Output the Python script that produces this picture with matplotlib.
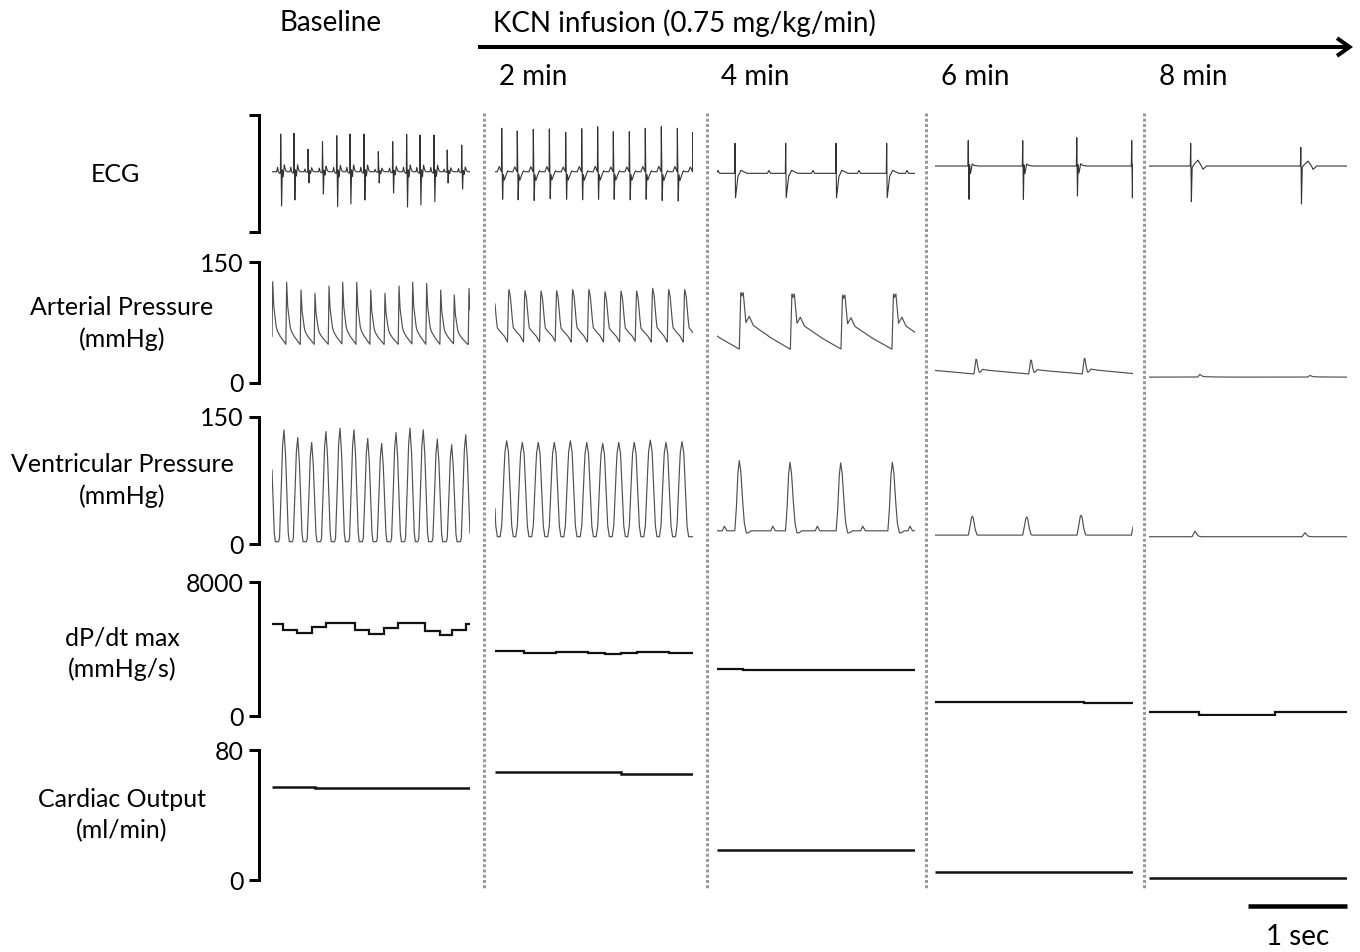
import numpy as np
import matplotlib
matplotlib.use("Agg")
import matplotlib.pyplot as plt
from matplotlib.lines import Line2D
from matplotlib.patches import FancyArrowPatch

plt.rcParams['font.family'] = ['Lato', 'DejaVu Sans']

# ======================= DATA =======================
columns = ["Baseline", "2 min", "4 min", "6 min", "8 min"]
infusion_label = "KCN infusion (0.75 mg/kg/min)"
row_labels = ["ECG", "Arterial Pressure\n(mmHg)", "Ventricular Pressure\n(mmHg)",
              "dP/dt max\n(mmHg/s)", "Cardiac Output\n(ml/min)"]
row_ymin = [-1.0, 0, 0, 0, 0]
row_ymax = [1.0, 150, 150, 8000, 80]
row_ticklabels = [None, ["0", "150"], ["0", "150"], ["0", "8000"], ["0", "80"]]
window_s = 2.0
scale_bar_s = 1.0

# ---- ECG (arbitrary units) ----
ecg_level = [0.03, 0.03, 0.003, 0.128, 0.128]
ecg_r_times = [
    [0.088, 0.222, 0.364, 0.510, 0.654, 0.788, 0.929, 1.074, 1.219, 1.360, 1.495, 1.636, 1.770, 1.916],
    [0.068, 0.225, 0.387, 0.549, 0.714, 0.876, 1.037, 1.195, 1.357, 1.518, 1.680, 1.842, 1.998],
    [0.182, 0.694, 1.202, 1.714],
    [0.336, 0.886, 1.432, 1.987],
    [0.421, 1.533],
]
ecg_r_peak = [
    [0.675, 0.687, 0.414, 0.544, 0.646, 0.675, 0.675, 0.373, 0.544, 0.670, 0.658, 0.658, 0.402, 0.487],
    [0.773, 0.726, 0.755, 0.761, 0.704, 0.766, 0.800, 0.715, 0.715, 0.773, 0.800, 0.773, 0.704],
    [0.516, 0.516, 0.516, 0.516],
    [0.561, 0.561, 0.612, 0.561],
    [0.516, 0.448],
]
ecg_s_trough = [
    [-0.556, -0.453, -0.162, -0.350, -0.568, -0.521, -0.453, -0.162, -0.333, -0.573, -0.538, -0.482, -0.162, -0.265],
    [-0.44, -0.45, -0.46, -0.43, -0.44, -0.45, -0.44, -0.44, -0.45, -0.44, -0.46, -0.47, -0.44],
    [-0.414, -0.414, -0.414, -0.414],
    [-0.441, -0.441, -0.385, -0.414],
    [-0.482, -0.521],
]
# beat shape knots (ms from R, fraction of R height (+) or S depth (-))
ecg_tpl_ms = [
    [-40, -32, -24, -8, -3, 0, 9, 16, 25, 36, 48, 62],
    [-45, -25, -12, -3, 0, 9, 16, 26, 40, 60, 80],
    [-4, 0, 5, 17, 30, 60, 120],
    [-4, 0, 7, 13, 22, 40, 60, 100],
    [-4, 0, 7, 14, 40, 74, 100, 124, 160],
]
ecg_tpl_frac = [
    [0, 0.12, 0, -0.05, 0, 1, -1, 0.05, -0.15, 0.18, 0.04, 0],
    [0, 0.12, 0.05, 0, 1, -1, -0.1, -0.3, -0.15, 0.02, 0],
    [0, 1, -1, -0.6, -0.12, 0.1, 0],
    [0, 1, -1, 0.05, -0.23, 0.08, 0.02, 0],
    [0, 1, -1, -0.05, 0.1, 0.26, 0.05, -0.09, 0],
]
ecg_p_times_4min = [0.010, 0.525, 0.970, 1.434, 1.919]
ecg_p_height_4min = 0.05

# ---- Arterial pressure (mmHg) ----
ap_trough = [48, 51, 42, 11.2, 7.3]
ap_peak_times = [
    [0.007, 0.148, 0.293, 0.434, 0.576, 0.714, 0.856, 0.997, 1.141, 1.283, 1.421, 1.562, 1.704, 1.841, 1.990],
    [-0.020, 0.141, 0.303, 0.465, 0.623, 0.785, 0.949, 1.111, 1.273, 1.431, 1.593, 1.755, 1.917],
    [-0.265, 0.249, 0.765, 1.276, 1.791],
    [-0.136, 0.414, 0.967, 1.508],
    [0.515, 1.626],
]
ap_peaks = [
    [125.6, 124.8, 115.3, 111.2, 120.2, 124.8, 124.8, 115.3, 111.2, 120.2, 124.8, 123.5, 115.3, 109.1, 117.2],
    [115, 116, 114.4, 114, 114.4, 116, 116, 113.2, 114, 114, 117.4, 116, 116],
    [111, 112, 110.3, 109, 110.3],
    [29.5, 29.4, 28.5, 30.6],
    [10.7, 9.5],
]
ap_tpl_ms = [
    [-8, 0, 10, 33, 45, 71, 124, 133],
    [-15, -5, 0, 8, 15, 30, 43, 71, 111, 131, 146],
    [-24, -10, -6, 3, 16, 43, 77, 117, 286, 488],
    [-20, -10, 0, 8, 16, 32, 42, 66, 76, 136, 303, 444, 530],
    [-25, 0, 20, 45, 150, 300],
]
ap_tpl_frac = [
    [0, 1, 0.62, 0.30, 0.22, 0.14, 0.02, 0],
    [0, 0.85, 1, 0.93, 0.85, 0.50, 0.27, 0.20, 0.12, 0.05, 0],
    [0, 0.96, 1.0, 0.94, 1.0, 0.47, 0.58, 0.42, 0.21, 0],
    [0, 0.55, 1, 0.95, 0.55, 0.12, 0.12, 0.32, 0.30, 0.24, 0.14, 0.06, 0],
    [0, 1, 0.4, 0.15, 0.05, 0],
]

# ---- Ventricular pressure (mmHg) ----
lvp_trough = [2.7, 8.6, 15.6, 10.5, 8.6]
lvp_peak_times = [
    [-0.020, 0.121, 0.260, 0.401, 0.545, 0.687, 0.828, 0.967, 1.108, 1.253, 1.394, 1.528, 1.670, 1.815, 1.957],
    [-0.043, 0.118, 0.276, 0.437, 0.599, 0.761, 0.927, 1.088, 1.250, 1.407, 1.569, 1.727, 1.889],
    [0.225, 0.737, 1.249, 1.771],
    [0.377, 0.926, 1.475, 2.024],
    [0.465, 1.576],
]
lvp_peaks = [
    [130, 134.8, 125.8, 119.9, 132.8, 136.8, 134.8, 124.6, 118.8, 131.6, 136.8, 134.8, 123.9, 117.2, 129],
    [120, 121.9, 120, 120, 120, 121.9, 120, 118.8, 120, 120, 122.7, 120, 121],
    [98.5, 96.5, 95.8, 96.5],
    [32.8, 32, 34, 33],
    [15.2, 13.3],
]
lvp_tpl_ms = [
    [-55, -45, -30, -15, 0, 15, 30, 43, 53],
    [-66, -50, -35, -18, 0, 18, 35, 50, 66],
    [-45, -30, -15, 0, 15, 30, 50, 70, 90, 120],
    [-40, -25, -10, 0, 10, 25, 45, 55],
    [-30, 0, 30, 60],
]
lvp_tpl_frac = [
    [0, 0.03, 0.4, 0.85, 1, 0.8, 0.4, 0.08, 0],
    [0, 0.12, 0.5, 0.88, 1, 0.88, 0.5, 0.12, 0],
    [0, 0.3, 0.8, 1, 0.85, 0.5, 0.12, -0.03, -0.03, 0],
    [0, 0.4, 0.9, 1, 0.9, 0.4, 0.02, 0],
    [0, 1, 0.15, 0],
]
lvp_atrial_times_4min = [0.074, 0.563, 1.013, 1.472, 1.949]
lvp_atrial_peak_4min = 21.0

# ---- dP/dt max (mmHg/s), step-held values ----
dpdt_edges = [
    [0, 0.111, 0.257, 0.402, 0.546, 0.837, 0.982, 1.127, 1.272, 1.547, 1.693, 1.823, 1.961, 2.0],
    [0, 0.289, 0.615, 0.941, 1.108, 1.268, 1.434, 1.754, 2.0],
    [0, 0.258, 1.273, 2.0],
    [0, 0.957, 1.500, 2.0],
    [0, 0.510, 1.272, 2.0],
]
dpdt_values = [
    [5490, 5134, 4935, 5294, 5533, 5134, 4895, 5234, 5533, 5095, 4835, 5134, 5490],
    [3862, 3761, 3821, 3761, 3681, 3761, 3841, 3741],
    [2806, 2766, 2726],
    [836, 816, 796],
    [239, 40, 219],
]

# ---- Cardiac output (ml/min) ----
co_edges = [[0, 0.438, 2.0], [0, 1.268, 2.0], [0, 2.0], [0, 2.0], [0, 2.0]]
co_values = [[57.0, 56.6], [66.2, 65.2], [18.3], [4.9], [1.0]]

# ======================= FIGURE =======================
W, H = 1360, 952
fig = plt.figure(figsize=(W / 100, H / 100), dpi=100)
PT = 72 / 100  # points per pixel

col_left_px = [272, 495, 717, 935, 1149]
col_width_px = 198
row_top_px = [115, 262, 417, 582, 750]
row_bot_px = [232, 383, 544, 716, 880]
sep_x_px = [484, 707, 926, 1144]

TRACE = '#505050'
FONT_HDR = 20
FONT_LBL = 18

t = np.linspace(0, window_s, 2001)


def pulse_train(times, peaks, base, knots_ms, knots_frac):
    y = np.full_like(t, float(base))
    kt = np.asarray(knots_ms, float) / 1000.0
    kf = np.asarray(knots_frac, float)
    for tb, pk in zip(times, peaks):
        y += (pk - base) * np.interp(t - tb, kt, kf, left=0.0, right=0.0)
    return y


def ecg_trace(c):
    base = ecg_level[c]
    y = np.full_like(t, base)
    kt = np.asarray(ecg_tpl_ms[c], float) / 1000.0
    kf = np.asarray(ecg_tpl_frac[c], float)
    for tb, r, s in zip(ecg_r_times[c], ecg_r_peak[c], ecg_s_trough[c]):
        f = np.interp(t - tb, kt, kf, left=0.0, right=0.0)
        y += np.where(f > 0, f * (r - base), f * (base - s))
    if c == 2:
        y = y + pulse_train(ecg_p_times_4min, [ecg_p_height_4min] * len(ecg_p_times_4min),
                            0.0, [-15, 0, 15], [0, 1, 0])
    return y


axes = {}
for r in range(5):
    for c in range(5):
        l = col_left_px[c] / W
        b = 1 - row_bot_px[r] / H
        w = col_width_px / W
        h = (row_bot_px[r] - row_top_px[r]) / H
        ax = fig.add_axes([l, b, w, h])
        ax.set_xlim(0, window_s)
        ax.set_ylim(row_ymin[r], row_ymax[r])
        ax.patch.set_visible(False)
        for sp in ax.spines.values():
            sp.set_visible(False)
        ax.set_xticks([])
        ax.set_yticks([])
        if c == 0:
            sp = ax.spines['left']
            sp.set_visible(True)
            sp.set_position(('outward', 13 * PT))
            sp.set_linewidth(3 * PT)
            sp.set_capstyle('projecting')
            ax.set_yticks([row_ymin[r], row_ymax[r]])
            if row_ticklabels[r] is None:
                ax.set_yticklabels([])
            else:
                ax.set_yticklabels(row_ticklabels[r])
            ax.tick_params(axis='y', direction='out', length=10 * PT, width=3 * PT,
                           pad=5 * PT, labelsize=FONT_LBL)
        axes[(r, c)] = ax

for c in range(5):
    axes[(0, c)].plot(t, ecg_trace(c), color='#333333', lw=0.8)
    axes[(1, c)].plot(t, pulse_train(ap_peak_times[c], ap_peaks[c], ap_trough[c],
                                     ap_tpl_ms[c], ap_tpl_frac[c]), color=TRACE, lw=0.85)
    lvp = pulse_train(lvp_peak_times[c], lvp_peaks[c], lvp_trough[c],
                      lvp_tpl_ms[c], lvp_tpl_frac[c])
    if c == 2:
        lvp = lvp + pulse_train(lvp_atrial_times_4min,
                                [lvp_atrial_peak_4min - lvp_trough[c]] * len(lvp_atrial_times_4min),
                                0.0, [-20, 0, 25], [0, 1, 0])
    axes[(2, c)].plot(t, lvp, color=TRACE, lw=0.85)
    axes[(3, c)].stairs(dpdt_values[c], dpdt_edges[c], baseline=None, color='#111111', lw=1.6)
    axes[(4, c)].stairs(co_values[c], co_edges[c], baseline=None, color='#111111', lw=1.8)

# scale bar (1 s) on the last cardiac-output panel
axsb = axes[(4, 4)]
axsb.plot([window_s - scale_bar_s, window_s], [-16, -16], color='black', lw=4.5 * PT,
          solid_capstyle='butt', clip_on=False)
axsb.text(window_s - scale_bar_s / 2, -35, "1 sec", ha='center', va='center',
          fontsize=FONT_HDR, clip_on=False)

# dotted separators
for xp in sep_x_px:
    fig.add_artist(Line2D([xp / W, xp / W], [1 - 113 / H, 1 - 890 / H],
                          transform=fig.transFigure, color='#9a9a9a', lw=3 * PT,
                          linestyle=(0, (1, 0.75))))

# row labels
row_label_y = [174, 323.5, 480.5, 653.5, 815]
row_label_x = [115, 122, 122, 122, 122]
for lab, xp, yp in zip(row_labels, row_label_x, row_label_y):
    fig.text(xp / W, 1 - yp / H, lab, ha='center', va='center', fontsize=FONT_LBL,
             linespacing=1.38, multialignment='center')

# headers
fig.text(280 / W, 1 - 23 / H, columns[0], ha='left', va='center', fontsize=FONT_HDR)
fig.text(493 / W, 1 - 23 / H, infusion_label, ha='left', va='center', fontsize=FONT_HDR)
for name, xp in zip(columns[1:], [499, 721, 941, 1159]):
    fig.text(xp / W, 1 - 77 / H, name, ha='left', va='center', fontsize=FONT_HDR)

arrow = FancyArrowPatch((478 / W, 1 - 47 / H), (1353 / W, 1 - 47 / H),
                        transform=fig.transFigure,
                        arrowstyle='->,head_length=0.45,head_width=0.32',
                        mutation_scale=20, lw=4 * PT, color='black',
                        shrinkA=0, shrinkB=0, joinstyle='miter', capstyle='butt')
fig.add_artist(arrow)

fig.savefig('out.png', dpi=100)
